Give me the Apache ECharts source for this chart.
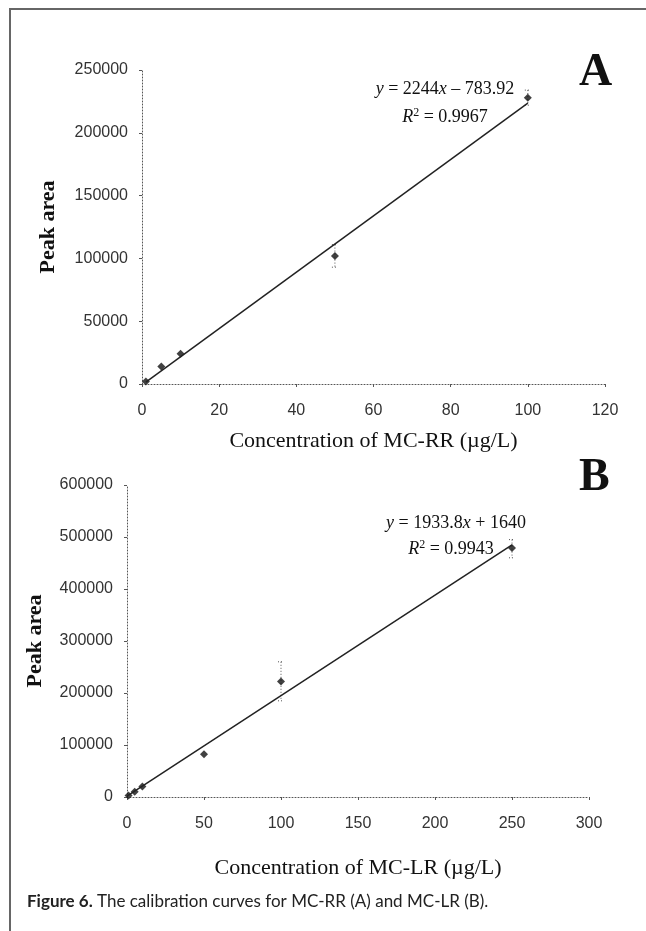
<!DOCTYPE html>
<html>
<head>
<meta charset="utf-8">
<script src="https://cdn.jsdelivr.net/npm/echarts@6/dist/echarts.min.js"></script>
<style>
  html, body { margin: 0; padding: 0; background: #fff; }
  #chart { width: 646px; height: 931px; }
</style>
</head>
<body>
<div id="chart"></div>
<script>
// MC-RR (A)
const concA = [1, 5, 10, 50, 100]
const areaA = [2000, 14000, 24000, 102000, 228000]
const errLowA = [null, null, null, 93000, 222000]
const errHighA = [null, null, null, 111000, 234000]
const fitA = [[1, 1460], [100, 223616]]

// MC-LR (B)
const concB = [1, 5, 10, 50, 100, 250]
const areaB = [3000, 10000, 20000, 82000, 222000, 479000]
const errLowB = [null, null, null, null, 185000, 460000]
const errHighB = [null, null, null, null, 260000, 495000]
const fitB = [[0, 1640], [250, 485090]]

const serif = '"Liberation Serif", "DejaVu Serif", serif'
const sans = '"Liberation Sans", Arial, sans-serif'

function pts(xs, ys) {
  return xs.map((x, i) => [x, ys[i]])
}
function errData(xs, lo, hi) {
  let out = []
  xs.forEach((x, i) => {
    if (lo[i] != null) out.push([x, lo[i], hi[i]])
  })
  return out
}

// dotted error bars with small caps
function errRender(params, api) {
  const x = api.value(0)
  const top = api.coord([x, api.value(2)])
  const bot = api.coord([x, api.value(1)])
  const cap = 3
  const st = { stroke: '#555', lineWidth: 1, lineDash: [1, 2] }
  return {
    type: 'group',
    children: [
      { type: 'line', shape: { x1: top[0], y1: top[1], x2: bot[0], y2: bot[1] }, style: st },
      { type: 'line', shape: { x1: top[0] - cap, y1: top[1], x2: top[0] + cap, y2: top[1] }, style: st },
      { type: 'line', shape: { x1: bot[0] - cap, y1: bot[1], x2: bot[0] + cap, y2: bot[1] }, style: st }
    ]
  }
}

function xAxisOf(gridIndex, max, interval, name, gap) {
  return {
    gridIndex: gridIndex, type: 'value', min: 0, max: max, interval: interval,
    name: name, nameLocation: 'middle', nameGap: gap,
    nameTextStyle: { fontFamily: serif, fontSize: 22, color: '#111' },
    axisLine: { lineStyle: { color: '#555', type: [1, 2], width: 1 } },
    axisTick: { show: true, length: 3, lineStyle: { color: '#555' } },
    axisLabel: { fontFamily: sans, fontSize: 16, color: '#333', margin: 19 },
    splitLine: { show: false }
  }
}
function yAxisOf(gridIndex, max, interval, gap) {
  return {
    gridIndex: gridIndex, type: 'value', min: 0, max: max, interval: interval,
    name: 'Peak area', nameLocation: 'middle', nameGap: gap,
    nameTextStyle: { fontFamily: serif, fontSize: 22, fontWeight: 'bold', color: '#111' },
    axisLine: { show: true, lineStyle: { color: '#555', type: [1, 2], width: 1 } },
    axisTick: { show: true, length: 3, lineStyle: { color: '#555' } },
    axisLabel: { fontFamily: sans, fontSize: 16, color: '#333', margin: 14, formatter: (v) => String(v) },
    splitLine: { show: false }
  }
}

const chart = echarts.init(document.getElementById('chart'), null, { renderer: 'canvas' })

const eqRich = {
  i: { fontStyle: 'italic', fontFamily: serif, fontSize: 18 },
  s: { fontFamily: serif, fontSize: 12, verticalAlign: 'top', padding: [0, 0, 9, 0] }
}
function eqText(x, y, text) {
  return {
    type: 'text', x: x, y: y,
    style: {
      text: text, font: '18px ' + serif, fill: '#111',
      align: 'center', verticalAlign: 'middle', rich: eqRich
    }
  }
}

const option = {
  backgroundColor: '#fff',
  animation: false,
  grid: [
    { left: 142, top: 70, right: 41, bottom: 547 },
    { left: 127, top: 485, right: 57, bottom: 134 }
  ],
  xAxis: [
    xAxisOf(0, 120, 20, 'Concentration of MC-RR (µg/L)', 46),
    xAxisOf(1, 300, 50, 'Concentration of MC-LR (µg/L)', 60)
  ],
  yAxis: [
    yAxisOf(0, 250000, 50000, 83),
    yAxisOf(1, 600000, 100000, 81)
  ],
  series: [
    {
      type: 'line', xAxisIndex: 0, yAxisIndex: 0, data: fitA,
      symbol: 'none', lineStyle: { color: '#222', width: 1.5 }
    },
    {
      type: 'scatter', xAxisIndex: 0, yAxisIndex: 0, data: pts(concA, areaA),
      symbol: 'diamond', symbolSize: 8, itemStyle: { color: '#111' }
    },
    {
      type: 'custom', xAxisIndex: 0, yAxisIndex: 0, data: errData(concA, errLowA, errHighA),
      renderItem: errRender
    },
    {
      type: 'line', xAxisIndex: 1, yAxisIndex: 1, data: fitB,
      symbol: 'none', lineStyle: { color: '#222', width: 1.5 }
    },
    {
      type: 'scatter', xAxisIndex: 1, yAxisIndex: 1, data: pts(concB, areaB),
      symbol: 'diamond', symbolSize: 8, itemStyle: { color: '#111' }
    },
    {
      type: 'custom', xAxisIndex: 1, yAxisIndex: 1, data: errData(concB, errLowB, errHighB),
      renderItem: errRender
    }
  ],
  graphic: [
    // frame
    {
      type: 'polyline', silent: true,
      shape: { points: [[10, 931], [10, 9], [646, 9]] },
      style: { stroke: '#666', lineWidth: 2, fill: null }
    },
    // panel letters
    {
      type: 'text', left: 579, top: 50,
      style: { text: 'A', font: 'bold 46px ' + serif, fill: '#111' }
    },
    {
      type: 'text', left: 579, top: 455,
      style: { text: 'B', font: 'bold 46px ' + serif, fill: '#111' }
    },
    // equations
    eqText(445, 89, '{i|y} = 2244{i|x} – 783.92'),
    eqText(445, 117, '{i|R}{s|2} = 0.9967'),
    eqText(456, 523, '{i|y} = 1933.8{i|x} + 1640'),
    eqText(451, 549, '{i|R}{s|2} = 0.9943'),
    // caption
    {
      type: 'text', left: 27, top: 893,
      style: {
        text: '{b|Figure 6.} The calibration curves for MC-RR (A) and MC-LR (B).',
        font: '17px Lato, "Open Sans", sans-serif', fill: '#222',
        rich: { b: { fontWeight: 'bold', fontFamily: 'Lato, "Open Sans", sans-serif', fontSize: 17 } }
      }
    }
  ]
}

chart.setOption(option)
</script>
</body>
</html>
